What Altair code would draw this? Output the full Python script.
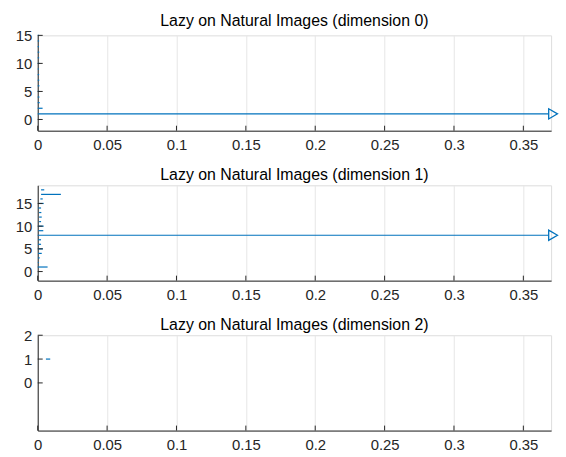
import math
import altair as alt
import pandas as pd

INF = math.inf

# ---- shared axis values ----
X_TICKS = [0, 0.05, 0.1, 0.15, 0.2, 0.25, 0.3, 0.35]
X_MAX = 0.37

# ---- dimension 0 ----
d0_title = "Lazy on Natural Images (dimension 0)"
d0_index = [1, 2, 3, 4, 5, 6, 7, 8, 9, 10, 11, 12, 13, 14, 15]
d0_birth = [0, 0, 0, 0, 0, 0, 0, 0, 0, 0, 0, 0, 0, 0, 0]
d0_death = [INF, 0.0035, 0.0014, 0.0012, 0.0013, 0.0012, 0.0011, 0.0010,
            0.0009, 0.0012, 0.0010, 0.0011, 0.0009, 0.0010, 0.0008]
d0_ydomain = [-2, 15]
d0_yticks = [0, 5, 10, 15]

# ---- dimension 1 ----
d1_title = "Lazy on Natural Images (dimension 1)"
d1_index = [1, 2, 3, 4, 5, 6, 7, 8, 9, 10, 11, 12, 13, 14, 15, 16, 17, 18]
d1_birth = [0.0000, 0.0001, 0.0002, 0.0003, 0.0003, 0.0003, 0.0003, 0.0000,
            0.0005, 0.0005, 0.0010, 0.0010, 0.0010, 0.0005, 0.0010, 0.0019,
            0.0024, 0.0024]
d1_death = [0.0071, 0.0008, 0.0014, 0.0029, 0.0038, 0.0024, 0.0024, INF,
            0.0040, 0.0043, 0.0024, 0.0029, 0.0026, 0.0024, 0.0043, 0.0036,
            0.0167, 0.0047]
d1_ydomain = [-2, 19]
d1_yticks = [0, 5, 10, 15]

# ---- dimension 2 ----
d2_title = "Lazy on Natural Images (dimension 2)"
d2_index = [1]
d2_birth = [0.0059]
d2_death = [0.0090]
d2_ydomain = [-2, 2]
d2_yticks = [0, 1, 2]

BLUE = "#0072BD"
AXIS = "#262626"
GRID = "#e6e6e6"
FONT = "Liberation Sans"
W = 517
H = 96


def panel(title, idx, birth, death, ydom, yticks, toff):
    df = pd.DataFrame({"i": idx, "b": birth, "d": death})
    df["inf"] = df["d"].apply(math.isinf)
    df["dp"] = df["d"].where(~df["inf"], X_MAX)
    fin = df[~df["inf"]]
    inf = df[df["inf"]]

    xs = alt.Scale(domain=[0, X_MAX], nice=False, zero=False)
    ys = alt.Scale(domain=ydom, nice=False, zero=False)

    xaxis = alt.Axis(values=X_TICKS, format="~g", title=None, ticks=False,
                     grid=True, gridColor=GRID, gridWidth=1,
                     domainColor=AXIS, domainWidth=1,
                     labelFont=FONT, labelFontSize=15, labelColor=AXIS,
                     labelPadding=7, labelFlush=False, labelOverlap=False)
    yaxis = alt.Axis(values=yticks, format="d", title=None, ticks=False,
                     grid=False, domainColor=AXIS, domainWidth=1,
                     labelFont=FONT, labelFontSize=15, labelColor=AXIS,
                     labelPadding=6, labelOverlap=False, labelFlush=False)

    def X(f):
        return alt.X(f, scale=xs, axis=xaxis, title=None)

    def Y(f):
        return alt.Y(f, scale=ys, axis=yaxis, title=None)

    bars_fin = alt.Chart(fin).mark_rule(color=BLUE, strokeWidth=1.2).encode(
        x=X("b:Q"), x2="dp:Q", y=Y("i:Q")
    )
    layers = [bars_fin]
    if len(inf):
        bars_inf = alt.Chart(inf).mark_rule(color=BLUE, strokeWidth=1.2,
                                            x2Offset=-3, clip=False).encode(
            x=X("b:Q"), x2="dp:Q", y=Y("i:Q")
        )
        arrows = alt.Chart(inf).mark_point(shape="triangle-right", filled=False,
                                           size=105, color=BLUE, strokeWidth=1.3,
                                           opacity=1, xOffset=2, clip=False).encode(
            x=X("dp:Q"), y=Y("i:Q")
        )
        layers += [bars_inf, arrows]

    yt = alt.Chart(pd.DataFrame({"v": yticks})).mark_rule(color=AXIS, strokeWidth=1).encode(
        y=Y("v:Q"), x=alt.value(0), x2=alt.value(5)
    )
    xt = alt.Chart(pd.DataFrame({"t": X_TICKS})).mark_rule(color=AXIS, strokeWidth=1).encode(
        x=X("t:Q"), y=alt.value(H), y2=alt.value(H - 5)
    )
    layers += [yt, xt]

    return alt.layer(*layers).properties(
        width=W, height=H,
        title=alt.TitleParams(title, font=FONT, fontSize=16, fontWeight="normal",
                              color="#000000", offset=toff, anchor="middle"),
    )


chart = alt.vconcat(
    panel(d0_title, d0_index, d0_birth, d0_death, d0_ydomain, d0_yticks, -1),
    panel(d1_title, d1_index, d1_birth, d1_death, d1_ydomain, d1_yticks, 2),
    panel(d2_title, d2_index, d2_birth, d2_death, d2_ydomain, d2_yticks, -5),
    spacing=13,
).properties(
    padding={"left": 14, "top": 11, "right": 5, "bottom": 2}
).configure_view(strokeWidth=0).configure(background="white")

chart.save("out.html", embed_options={"renderer": "svg", "actions": False})
